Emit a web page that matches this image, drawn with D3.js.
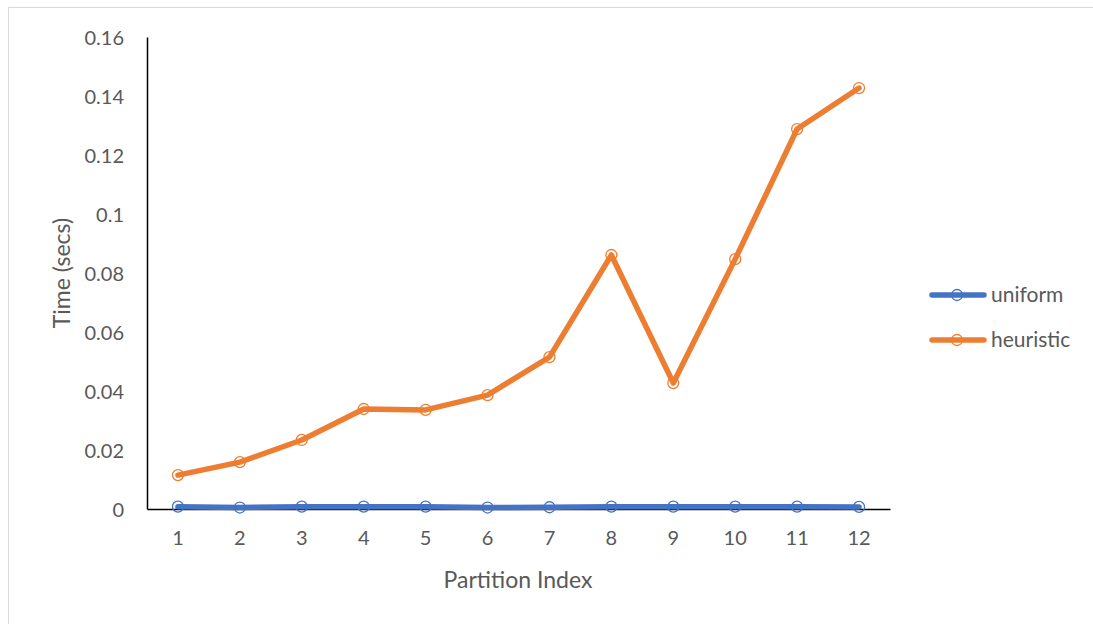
<!DOCTYPE html>
<html><head><meta charset="utf-8">
<script src="https://cdn.jsdelivr.net/npm/d3@7"></script>
<style>
html,body{margin:0;padding:0;background:#fff;}
svg text{font-family:Lato,"Open Sans",sans-serif;fill:#595959;}
</style></head>
<body>
<svg id="c" width="1093" height="624"></svg>
<script>
const categories = [1,2,3,4,5,6,7,8,9,10,11,12];
const uniform = [0.0008,0.0005,0.0008,0.0008,0.0008,0.0005,0.0006,0.0008,0.0008,0.0008,0.0008,0.0007];
const heuristic = [0.0115,0.0159,0.0234,0.0339,0.0336,0.0386,0.0515,0.0861,0.0427,0.0847,0.1288,0.1427];
const yTicks = [0,0.02,0.04,0.06,0.08,0.1,0.12,0.14,0.16];
const seriesNames = ["uniform","heuristic"];
const colors = ["#4472C4","#ED7D31"];

(function(){
const svg = d3.select("#c");
// outer border
svg.append("path").attr("d","M8.5,624 V7.5 H1093").attr("fill","none").attr("stroke","#d9d9d9").attr("stroke-width",1);

const pL=147, pR=890, pT=37, pB=509;
const x = d3.scaleBand().domain(categories).range([pL,pR]);
const y = d3.scaleLinear().domain([0,0.16]).range([pB,pT]);

const yAxis = svg.append("g").attr("transform",`translate(${pL},0)`)
  .call(d3.axisLeft(y).tickValues(yTicks).tickSize(0).tickPadding(23).tickFormat(d=>String(+d.toFixed(2))));
yAxis.select(".domain").attr("stroke","#000").attr("stroke-width",1.5);
yAxis.selectAll("text").attr("font-size",20).attr("fill","#595959").attr("dy","0.35em");

const xAxis = svg.append("g").attr("transform",`translate(0,${pB})`)
  .call(d3.axisBottom(x).tickSize(0).tickPadding(22));
xAxis.select(".domain").attr("stroke","#000").attr("stroke-width",1.5);
xAxis.selectAll("text").attr("font-size",20).attr("fill","#595959");

const data = [uniform, heuristic];
const line = d3.line().x((d,i)=>x(categories[i])+x.bandwidth()/2).y(d=>y(d));
data.forEach((s,k)=>{
  const g = svg.append("g");
  g.append("path").datum(s).attr("d",line).attr("fill","none").attr("stroke",colors[k]).attr("stroke-width",5.5).attr("stroke-linejoin","round").attr("stroke-linecap","round");
  g.selectAll("circle").data(s).join("circle")
    .attr("cx",(d,i)=>x(categories[i])+x.bandwidth()/2).attr("cy",d=>y(d)).attr("r",5.5)
    .attr("fill","none").attr("stroke",colors[k]).attr("stroke-width",1.3);
});

// axis titles
svg.append("text").attr("transform","translate(62,273) rotate(-90)").attr("text-anchor","middle").attr("font-size",23).attr("dy","0.35em").text("Time (secs)");
svg.append("text").attr("x",518).attr("y",588).attr("text-anchor","middle").attr("font-size",23).text("Partition Index");

// legend
seriesNames.forEach((n,k)=>{
  const ly = 295 + k*45;
  svg.append("line").attr("x1",932).attr("x2",984).attr("y1",ly).attr("y2",ly).attr("stroke",colors[k]).attr("stroke-width",5.5).attr("stroke-linecap","round");
  svg.append("circle").attr("cx",957).attr("cy",ly).attr("r",5.5).attr("fill","none").attr("stroke",colors[k]).attr("stroke-width",1.3);
  svg.append("text").attr("x",991).attr("y",ly).attr("dy","0.35em").attr("font-size",21).text(n);
});
})();
</script>
</body></html>
